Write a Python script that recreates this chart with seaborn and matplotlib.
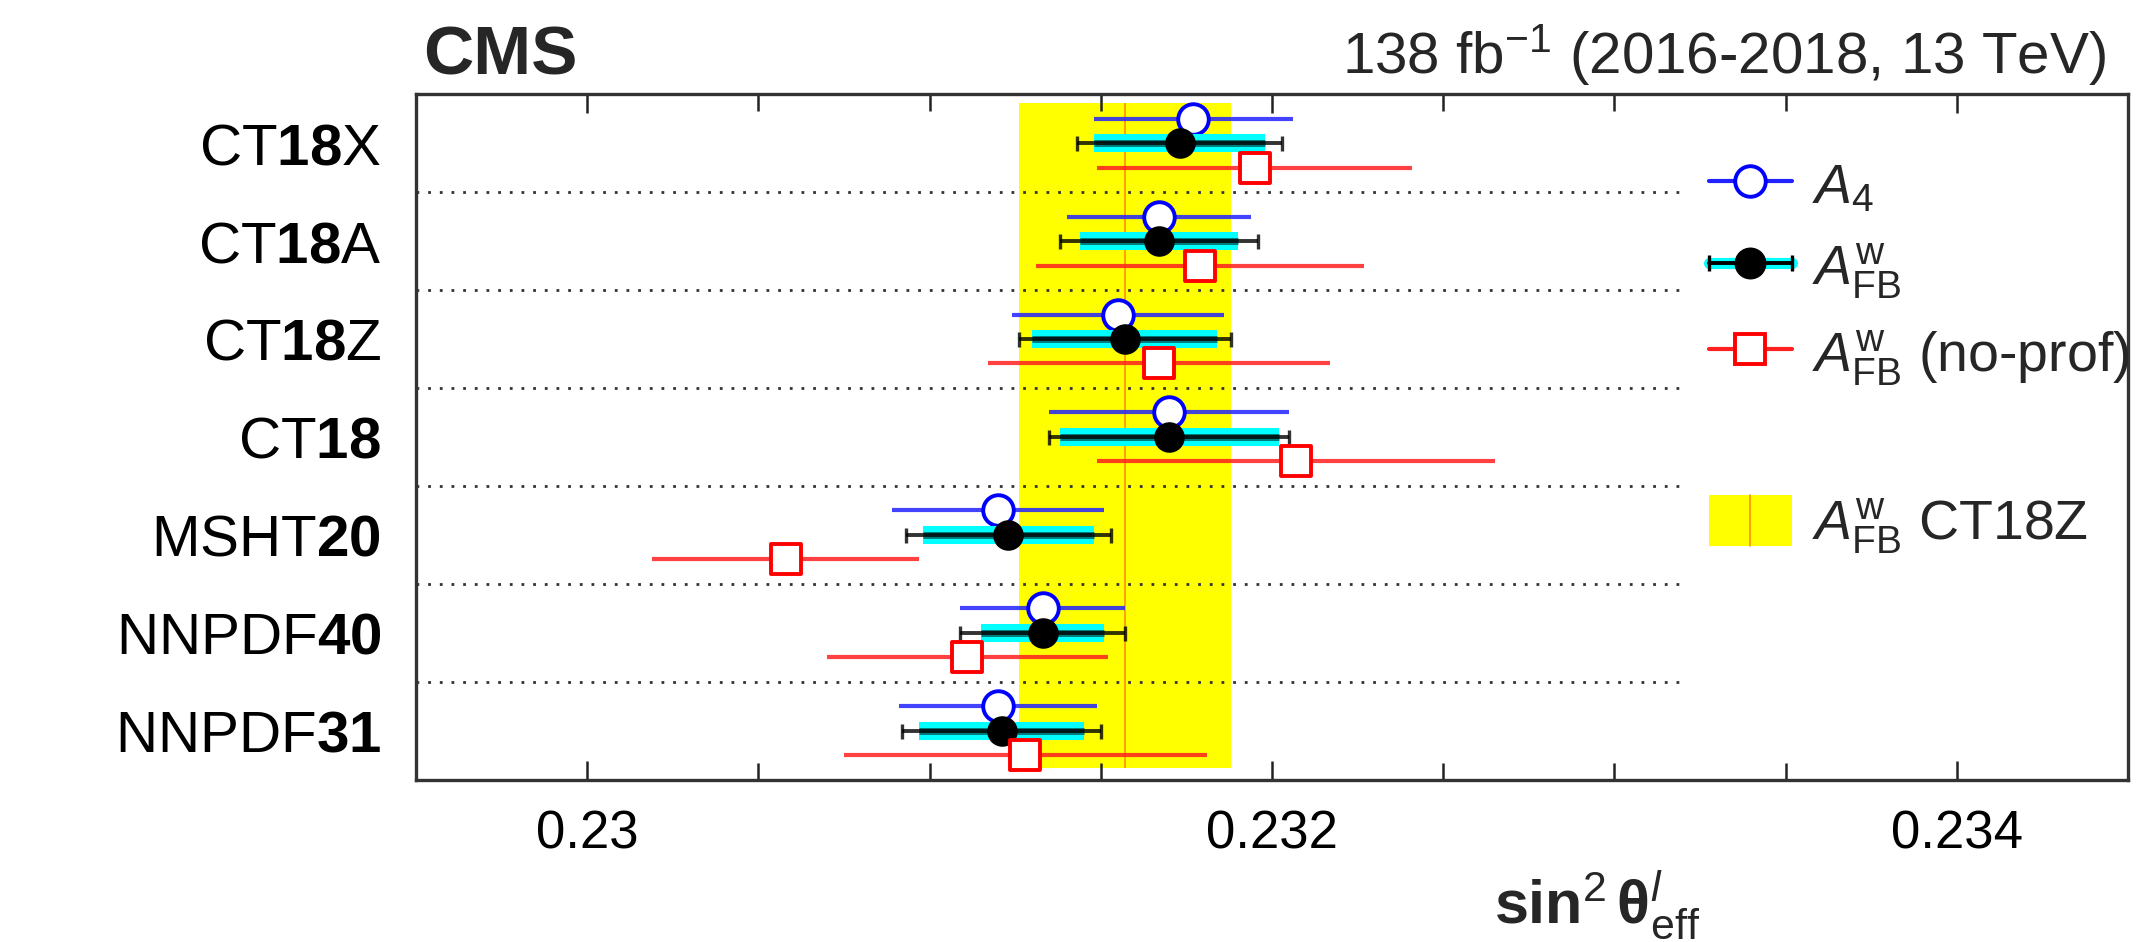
import numpy as np
import pandas as pd
import matplotlib
matplotlib.use("Agg")
import matplotlib.pyplot as plt
import seaborn as sns
from matplotlib.lines import Line2D
from matplotlib.patches import Rectangle
from matplotlib.ticker import MultipleLocator
from matplotlib.legend_handler import HandlerBase, HandlerLine2D

# PDF sets, top to bottom
pdf_sets = ["CT18X", "CT18A", "CT18Z", "CT18", "MSHT20", "NNPDF40", "NNPDF31"]
pdf_labels = [r"CT$\mathbf{18}$X", r"CT$\mathbf{18}$A", r"CT$\mathbf{18}$Z",
              r"CT$\mathbf{18}$", r"MSHT$\mathbf{20}$", r"NNPDF$\mathbf{40}$",
              r"NNPDF$\mathbf{31}$"]

# sin^2 theta_eff results
a4_val = [0.23177, 0.23167, 0.23155, 0.23170, 0.23120, 0.23133, 0.23120]
a4_err = [0.00029, 0.00027, 0.00031, 0.00035, 0.00031, 0.00024, 0.00029]
afb_val = [0.23173, 0.23167, 0.23157, 0.23170, 0.23123, 0.23133, 0.23121]
afb_err = [0.00030, 0.00029, 0.00031, 0.00035, 0.00030, 0.00024, 0.00029]
afb_stat = [0.00025, 0.00023, 0.00027, 0.00032, 0.00025, 0.00018, 0.00024]
noprof_val = [0.23195, 0.23179, 0.23167, 0.23207, 0.23058, 0.23111, 0.23128]
noprof_err = [0.00046, 0.00048, 0.00050, 0.00058, 0.00039, 0.00041, 0.00053]

band_set = "CT18Z"
x_ticks = [0.230, 0.232, 0.234]
x_tick_labels = ["0.23", "0.232", "0.234"]

sns.set_theme(style="ticks")
plt.rcParams["font.family"] = ["Liberation Sans", "DejaVu Sans"]
plt.rcParams.update({
    "mathtext.fontset": "custom",
    "mathtext.rm": "Liberation Sans",
    "mathtext.it": "Liberation Sans:italic",
    "mathtext.bf": "Liberation Sans:bold",
})

n = len(pdf_sets)
df = pd.DataFrame({
    "pdf": pdf_sets,
    "a4": a4_val, "a4_err": a4_err,
    "afb": afb_val, "afb_err": afb_err, "afb_stat": afb_stat,
    "noprof": noprof_val, "noprof_err": noprof_err,
})
df["y"] = n - 0.5 - np.arange(n)
off = 0.25

fig = plt.figure(figsize=(21.51, 9.42), dpi=100)
ax = fig.add_axes([0.1934, 0.172, 0.7959, 0.7282])

# reference band: A_FB^w with CT18Z
ib = pdf_sets.index(band_set)
bc, be = afb_val[ib], afb_err[ib]
band_lo, band_hi = 0.12, 6.91
band = ax.axvspan(bc - be, bc + be, ymin=band_lo / n, ymax=band_hi / n,
                  facecolor="#ffff00", edgecolor="none", zorder=0)
ax.vlines(bc, band_lo, band_hi, colors="#ff9900", lw=1.3, zorder=0.5)

# row separators
ax.hlines(np.arange(1, n), 0.2295, 0.2332, colors="#333333", lw=2.0,
          linestyles=(0, (1.0, 3.2)), zorder=1)

# A4
ax.errorbar(df["a4"], df["y"] + off, xerr=df["a4_err"], fmt="none",
            ecolor="#2222ff", elinewidth=3.0, alpha=0.85, zorder=3)
sns.scatterplot(x=df["a4"], y=df["y"] + off, marker="o", s=22 ** 2,
                color="white", edgecolor="#0000ff", linewidth=2.8, ax=ax, zorder=4)

# A_FB^w : stat band + total error bar
stat_lo = df["afb"] - df["afb_stat"]
stat_hi = df["afb"] + df["afb_stat"]
ax.hlines(df["y"], stat_lo, stat_hi, colors="#00ffff", lw=13, zorder=5)
ax.hlines(df["y"], stat_lo, stat_hi, colors="#007b7b", lw=5, zorder=5.5)
ax.errorbar(df["afb"], df["y"], xerr=df["afb_err"], fmt="none", ecolor="black",
            elinewidth=2.8, capsize=5.4, capthick=2.4, alpha=0.8, zorder=6)
sns.scatterplot(x=df["afb"], y=df["y"], marker="o", s=22 ** 2,
                color="black", edgecolor="black", linewidth=0, ax=ax, zorder=7)

# A_FB^w without profiling
ax.errorbar(df["noprof"], df["y"] - off, xerr=df["noprof_err"], fmt="none",
            ecolor="#ff2020", elinewidth=3.0, alpha=0.85, zorder=8)
sns.scatterplot(x=df["noprof"], y=df["y"] - off, marker="s", s=21.0 ** 2,
                color="white", edgecolor="#ff0000", linewidth=2.8, ax=ax, zorder=9)


class BandHandler(HandlerBase):
    def __init__(self, line_color):
        super().__init__()
        self.line_color = line_color

    def create_artists(self, legend, orig_handle, xdescent, ydescent,
                       width, height, fontsize, trans):
        rect = Rectangle((-xdescent, -ydescent), width, height,
                         facecolor=orig_handle.get_facecolor(), edgecolor="none",
                         transform=trans)
        mid = -xdescent + width / 2
        line = Line2D([mid, mid], [-ydescent, -ydescent + height],
                      color=self.line_color, lw=1.3, transform=trans)
        return [rect, line]


h_a4 = Line2D([], [], color="#2222ff", lw=3.0, marker="o", ms=22,
              mfc="white", mec="#0000ff", mew=2.8)
h_afb_band = Line2D([], [], color="#00ffff", lw=8)
h_afb_caps = Line2D([], [], color="black", lw=2.8, marker="|", ms=11, mew=2.4)
h_afb_dot = Line2D([], [], ls="none", marker="o", ms=22, color="black")
h_np = Line2D([], [], color="#ff2020", lw=3.0, marker="s", ms=21.0,
              mfc="white", mec="#ff0000", mew=2.8)
h_gap = Line2D([], [], ls="none")

ax.legend([h_a4, (h_afb_band, h_afb_caps, h_afb_dot), h_np, h_gap, band],
          [r"$A_{4}$", r"$A^{\mathrm{w}}_{\mathrm{FB}}$",
           r"$A^{\mathrm{w}}_{\mathrm{FB}}$ (no-prof)", "",
           r"$A^{\mathrm{w}}_{\mathrm{FB}}$ CT18Z"],
          handler_map={h_afb_caps: HandlerLine2D(numpoints=2, marker_pad=0),
                       band: BandHandler("#ff9900")},
          loc="upper left", bbox_to_anchor=(0.755, 0.905), frameon=False,
          fontsize=40, handlelength=1.51, handleheight=1.03,
          handletextpad=0.36, labelspacing=0.45, borderpad=0, borderaxespad=0)

# axes, ticks and labels
ax.set_xlim(0.2295, 0.2345)
ax.set_ylim(0, n)
ax.set_xticks(x_ticks, x_tick_labels)
ax.xaxis.set_minor_locator(MultipleLocator(0.0005))
ax.tick_params(axis="x", which="both", direction="in", top=True, bottom=True,
               width=1.8, color="#222222", labelcolor="black", labelsize=38, pad=21)
ax.tick_params(axis="x", which="major", length=14)
ax.tick_params(axis="x", which="minor", length=12)
ax.set_yticks(df["y"], pdf_labels)
ax.tick_params(axis="y", length=0, pad=25, labelsize=42, labelcolor="black")
for sp in ax.spines.values():
    sp.set_linewidth(2.4)
    sp.set_color("#333333")

ax.set_ylabel("")
ax.set_xlabel(r"$\mathbf{sin}^{2}\,\mathbf{\theta}^{\mathit{l}}_{\mathrm{eff}}$",
              fontsize=44)
ax.xaxis.set_label_coords(0.69, -0.128)

ax.text(0.004, 1.028, "CMS", transform=ax.transAxes, fontsize=50,
        fontweight="bold", ha="left", va="baseline")
ax.text(0.987, 1.03, r"138 fb$^{-1}$ (2016-2018, 13 TeV)", transform=ax.transAxes,
        fontsize=42, ha="right", va="baseline")

fig.savefig("out.png", dpi=100)
